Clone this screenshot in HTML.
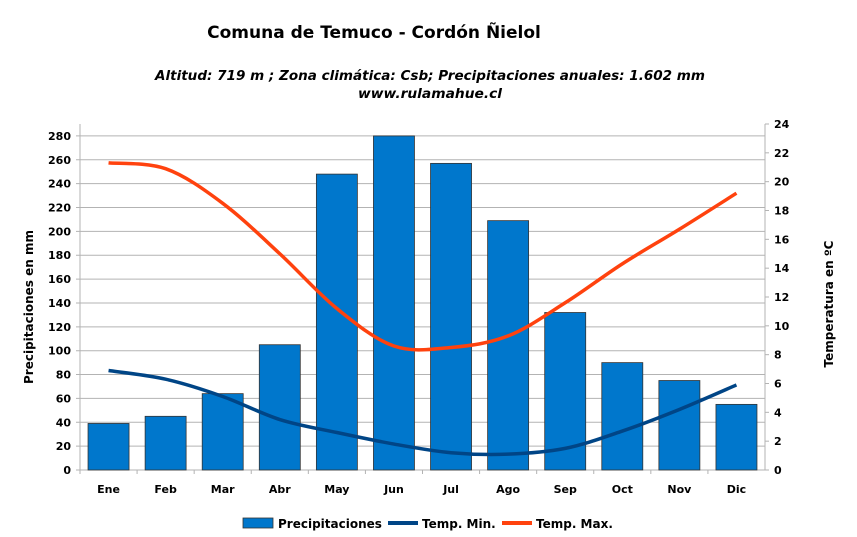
<!DOCTYPE html>
<html><head><meta charset="utf-8"><style>
body{margin:0;background:#fff;width:857px;height:537px;overflow:hidden}
svg{display:block;font-family:"DejaVu Sans","Liberation Sans",sans-serif}
</style></head><body>
<svg id="s" width="857" height="537" viewBox="0 0 857 537">
<text x="374" y="38" text-anchor="middle" font-size="17" font-weight="bold">Comuna de Temuco - Cordón Ñielol</text>
<text x="155" y="80" font-size="13.5" font-style="italic" font-weight="bold" textLength="550" lengthAdjust="spacingAndGlyphs">Altitud: 719 m ;  Zona climática: Csb;  Precipitaciones anuales: 1.602 mm</text>
<text x="358" y="98" font-size="13.5" font-style="italic" font-weight="bold" textLength="144" lengthAdjust="spacingAndGlyphs">www.rulamahue.cl</text>
<text transform="translate(33,307) rotate(-90)" text-anchor="middle" font-size="12" font-weight="bold">Precipitaciones en mm</text>
<text transform="translate(833,304) rotate(-90)" text-anchor="middle" font-size="12" font-weight="bold">Temperatura en ºC</text>
<g id="g"></g>
<rect x="243" y="518" width="30" height="10" fill="#0077cc" stroke="#333" stroke-width="0.8"/>
<text x="278" y="528" font-size="12" font-weight="bold">Precipitaciones</text>
<line x1="388" y1="523" x2="418" y2="523" stroke="#004586" stroke-width="4"/>
<text x="422" y="528" font-size="12" font-weight="bold">Temp. Min.</text>
<line x1="502" y1="523" x2="532" y2="523" stroke="#ff420e" stroke-width="4"/>
<text x="536" y="528" font-size="12" font-weight="bold">Temp. Max.</text>
</svg>
<script>
var g=document.getElementById('g'),h='';
var L=80,R=765,B=470,T=124,k=(B-T)/290,kt=(B-T)/24,w=(R-L)/12;
for(var v=0;v<=280;v+=20){var y=B-v*k;h+='<line x1="'+(L-4)+'" y1="'+y+'" x2="'+R+'" y2="'+y+'" stroke="#b3b3b3" stroke-width="1"/>';
h+='<text x="'+(L-9)+'" y="'+(y+4)+'" text-anchor="end" font-size="11" font-weight="bold">'+v+'</text>';}
for(var t=0;t<=24;t+=2){var y=B-t*kt;h+='<line x1="'+R+'" y1="'+y+'" x2="'+(R+4)+'" y2="'+y+'" stroke="#b3b3b3"/>';
h+='<text x="'+(R+9)+'" y="'+(y+4)+'" font-size="11" font-weight="bold">'+t+'</text>';}
h+='<line x1="'+L+'" y1="'+T+'" x2="'+L+'" y2="'+B+'" stroke="#b3b3b3"/><line x1="'+R+'" y1="'+T+'" x2="'+R+'" y2="'+B+'" stroke="#b3b3b3"/>';
var m=['Ene','Feb','Mar','Abr','May','Jun','Jul','Ago','Sep','Oct','Nov','Dic'];
var p=[39,45,64,105,248,280,257,209,132,90,75,55];
var mx=[21.3,20.9,18.5,15,11.2,8.6,8.5,9.3,11.6,14.3,16.7,19.2];
var mn=[6.9,6.3,5.1,3.5,2.6,1.8,1.2,1.1,1.5,2.7,4.2,5.9];
for(var i=0;i<12;i++){var c=L+w*(i+.5),y=B-p[i]*k;
h+='<rect x="'+(c-20.5)+'" y="'+y+'" width="41" height="'+(B-y)+'" fill="#0077cc" stroke="#333" stroke-width="0.8"/>';
h+='<text x="'+c+'" y="'+(B+23)+'" text-anchor="middle" font-size="11" font-weight="bold">'+m[i]+'</text>';
h+='<line x1="'+(L+w*i)+'" y1="'+B+'" x2="'+(L+w*i)+'" y2="'+(B+4)+'" stroke="#b3b3b3"/>';}
function path(a,col){var P=a.map(function(v,i){return[L+w*(i+.5),B-v*kt]});var d='M'+P[0];
for(var i=0;i<11;i++){var p0=P[Math.max(i-1,0)],p1=P[i],p2=P[i+1],p3=P[Math.min(i+2,11)];
d+=' C'+(p1[0]+(p2[0]-p0[0])/6)+','+(p1[1]+(p2[1]-p0[1])/6)+' '+(p2[0]-(p3[0]-p1[0])/6)+','+(p2[1]-(p3[1]-p1[1])/6)+' '+p2;}
return '<path d="'+d+'" fill="none" stroke="'+col+'" stroke-width="3.5"/>';}
h+=path(mn,'#004586')+path(mx,'#ff420e');
g.innerHTML=h;
</script>
</body></html>
